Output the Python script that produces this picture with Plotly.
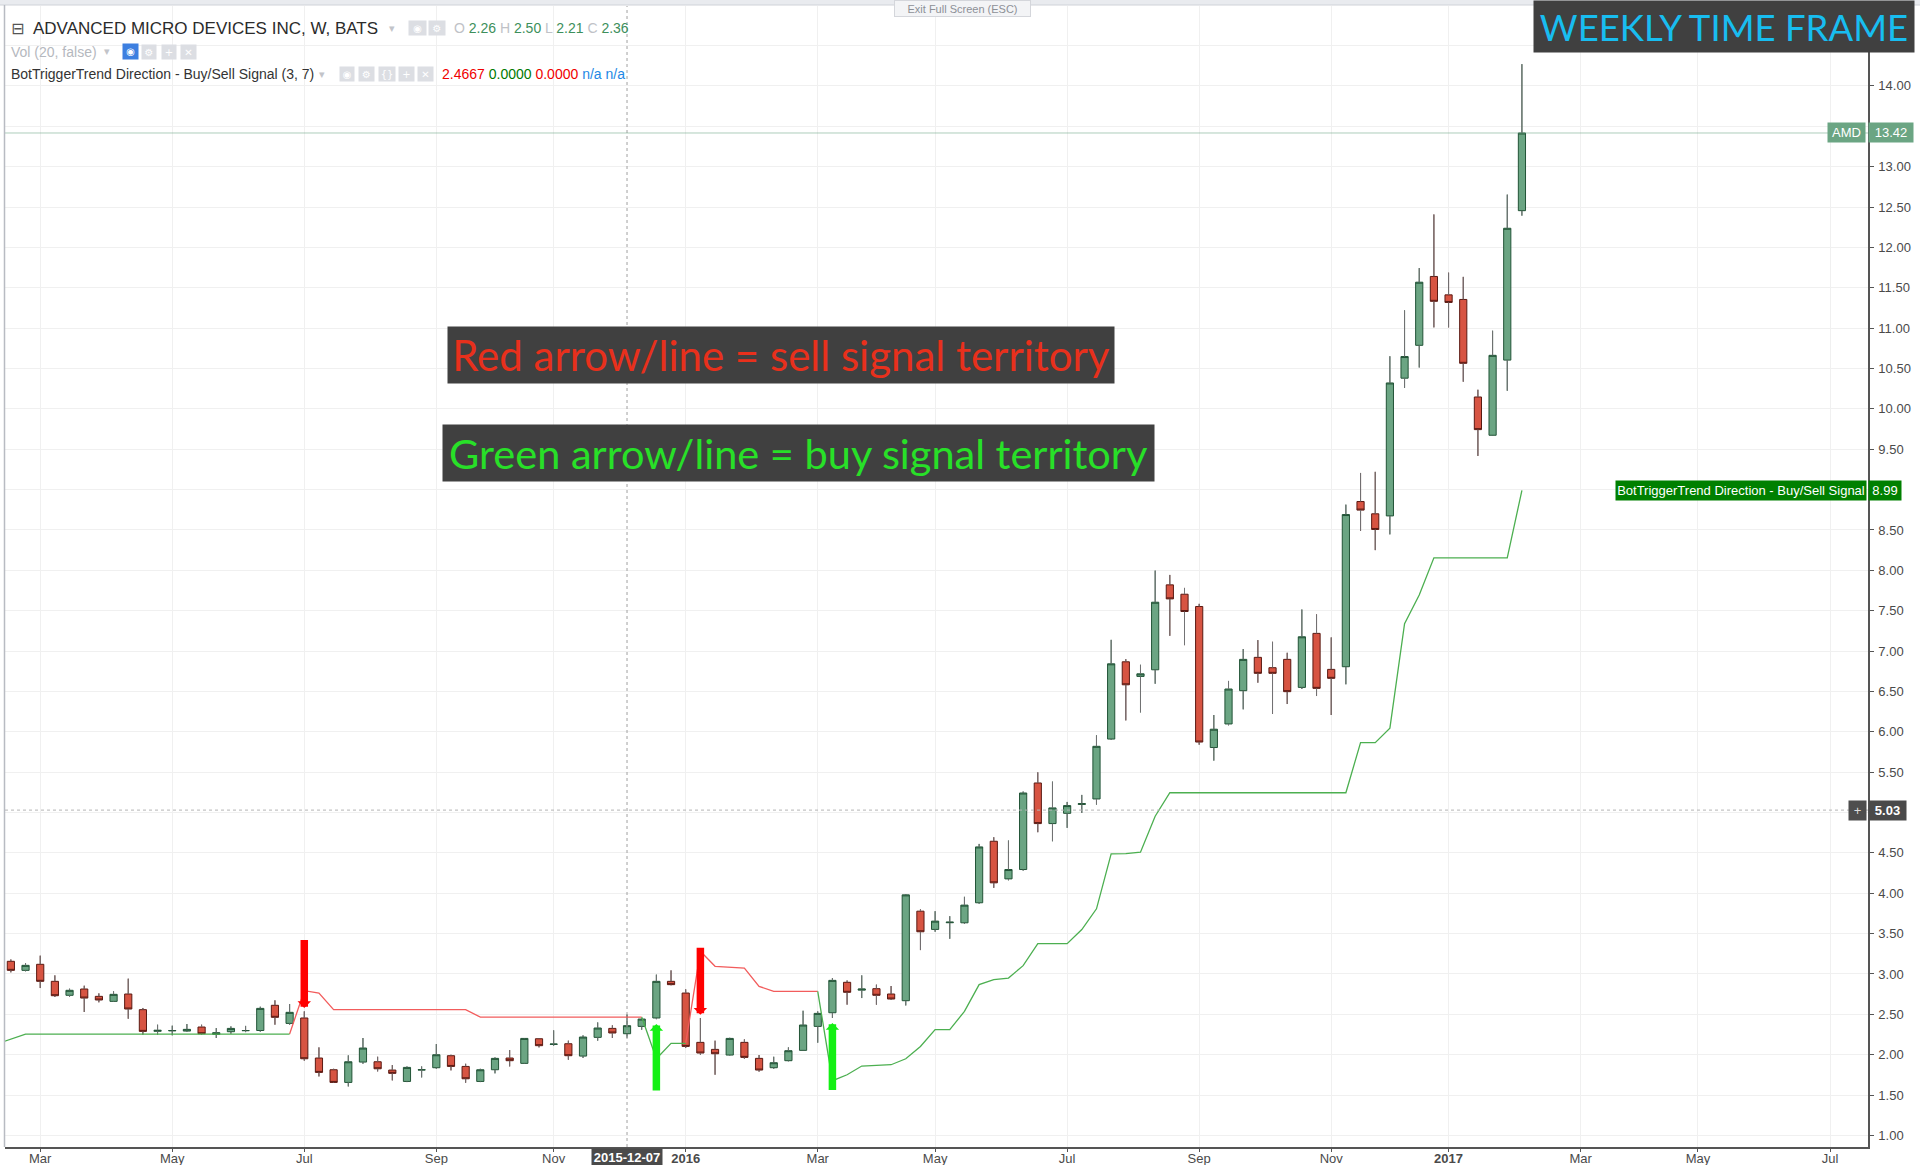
import datetime as dt
import plotly.graph_objects as go

# ---------------- data ----------------
BASE = dt.datetime(2016, 1, 4)          # weekly bars, week index 0 = 2016-01-04

week_index = list(range(-46, 58))

opens = [3.157, 3.045, 3.12, 2.909, 2.736, 2.814, 2.723, 2.661, 2.752, 2.558,
         2.29, 2.295, 2.293, 2.343, 2.252, 2.285, 2.297, 2.30, 2.612, 2.388,
         2.455, 1.959, 1.814, 1.657, 1.909, 1.913, 1.81, 1.669, 1.81, 1.839,
         1.988, 1.855, 1.669, 1.814, 1.959, 1.893, 2.198, 2.128, 2.136, 1.983,
         2.215, 2.326, 2.26, 2.351, 2.455, 2.909, 2.764, 2.153, 2.066, 1.996,
         2.153, 1.955, 1.839, 1.926, 2.054, 2.351, 2.52, 2.897, 2.80, 2.818,
         2.752, 2.669, 3.778, 3.552, 3.635, 3.634, 3.882, 4.644, 4.178, 4.294,
         5.366, 4.863, 4.99, 5.10, 5.168, 5.91, 6.867, 6.686, 6.768, 7.82,
         7.704, 7.552, 5.805, 6.097, 6.509, 6.922, 6.794, 6.897, 6.55, 7.219,
         6.773, 6.806, 8.852, 8.70, 8.674, 10.38, 10.787, 11.64, 11.412, 11.355,
         10.147, 9.673, 10.604, 12.455]
highs = [3.18, 3.136, 3.227, 2.983, 2.818, 2.855, 2.76, 2.785, 2.942, 2.579,
         2.372, 2.36, 2.38, 2.372, 2.33, 2.351, 2.357, 2.595, 2.674, 2.628,
         2.537, 2.091, 1.826, 1.992, 2.207, 1.975, 1.872, 1.855, 1.855, 2.132,
         2.0, 1.888, 1.826, 1.967, 2.058, 2.207, 2.207, 2.302, 2.174, 2.24,
         2.40, 2.364, 2.50, 2.45, 2.992, 3.045, 2.81, 2.455, 2.174, 2.21,
         2.19, 1.996, 1.975, 2.091, 2.545, 2.537, 2.95, 2.92, 2.983, 2.868,
         2.851, 3.99, 3.80, 3.778, 3.716, 3.956, 4.611, 4.694, 4.653, 5.26,
         5.498, 5.383, 5.131, 5.218, 5.956, 7.139, 6.90, 6.83, 7.997, 7.943,
         7.782, 7.585, 6.208, 6.63, 7.025, 7.136, 7.115, 6.979, 7.515, 7.454,
         7.169, 8.814, 9.206, 9.22, 10.652, 11.22, 11.744, 12.408, 11.687, 11.635,
         10.237, 10.968, 12.654, 14.27]
lows = [3.02, 3.033, 2.826, 2.715, 2.719, 2.529, 2.649, 2.653, 2.446, 2.248,
        2.248, 2.24, 2.285, 2.25, 2.207, 2.26, 2.28, 2.285, 2.372, 2.372,
        1.926, 1.731, 1.65, 1.607, 1.888, 1.793, 1.682, 1.661, 1.719, 1.826,
        1.806, 1.653, 1.661, 1.769, 1.855, 1.885, 2.091, 2.112, 1.938, 1.96,
        2.174, 2.207, 2.21, 2.31, 2.44, 2.86, 2.083, 2.0, 1.752, 1.99,
        1.95, 1.79, 1.825, 1.918, 2.05, 2.149, 2.455, 2.62, 2.702, 2.62,
        2.68, 2.61, 3.296, 3.523, 3.436, 3.62, 3.87, 4.067, 4.16, 4.28,
        4.756, 4.644, 4.81, 4.995, 5.098, 5.90, 6.141, 6.24, 6.595, 7.189,
        7.073, 5.84, 5.643, 6.08, 6.278, 6.608, 6.221, 6.344, 6.53, 6.443,
        6.208, 6.588, 8.489, 8.25, 8.445, 10.26, 10.512, 11.009, 11.009, 10.336,
        9.417, 9.67, 10.224, 12.393]
closes = [3.045, 3.107, 2.909, 2.731, 2.798, 2.702, 2.678, 2.748, 2.566, 2.289,
          2.302, 2.30, 2.314, 2.26, 2.273, 2.326, 2.30, 2.574, 2.463, 2.525,
          1.95, 1.781, 1.657, 1.913, 2.083, 1.826, 1.769, 1.843, 1.814, 2.0,
          1.855, 1.702, 1.814, 1.955, 1.926, 2.202, 2.112, 2.132, 1.988, 2.219,
          2.331, 2.269, 2.36, 2.442, 2.909, 2.868, 2.103, 2.021, 2.012, 2.202,
          1.967, 1.81, 1.901, 2.05, 2.368, 2.512, 2.921, 2.773, 2.814, 2.736,
          2.69, 3.98, 3.523, 3.655, 3.642, 3.853, 4.574, 4.129, 4.294, 5.242,
          4.863, 5.057, 5.086, 5.11, 5.82, 6.842, 6.582, 6.718, 7.605, 7.646,
          7.49, 5.873, 6.032, 6.53, 6.897, 6.724, 6.724, 6.497, 7.177, 6.538,
          6.662, 8.691, 8.746, 8.506, 10.321, 10.648, 11.569, 11.332, 11.318, 10.564,
          9.743, 10.663, 12.237, 13.417]

# BotTriggerTrend line, one value per week (-47 .. 57); side B = buy (green), S = sell (red)
sig_week = list(range(-47, 58))
sig_value = [2.13, 2.19,
             2.256, 2.256, 2.256, 2.256, 2.256, 2.256, 2.256, 2.256, 2.256, 2.256,
             2.256, 2.256, 2.256, 2.256, 2.256, 2.256, 2.256, 2.256, 2.256,
             2.793, 2.764,
             2.558, 2.558, 2.558, 2.558, 2.558, 2.558, 2.558, 2.558, 2.558, 2.558,
             2.4667, 2.4667, 2.4667, 2.4667, 2.4667, 2.4667, 2.4667, 2.4667, 2.4667,
             2.4667, 2.4667, 2.4667,
             1.95, 2.14, 2.14,
             3.281, 3.095, 3.087, 3.074, 2.847,
             2.785, 2.785, 2.785, 2.785,
             1.678, 1.752, 1.86, 1.868, 1.876, 1.95, 2.103, 2.31, 2.31, 2.537,
             2.868, 2.93, 2.95, 3.103, 3.375, 3.375, 3.375, 3.55, 3.807, 4.488,
             4.49, 4.508, 4.954,
             5.245, 5.245, 5.245, 5.245, 5.245, 5.245, 5.245, 5.245, 5.245, 5.245,
             5.245, 5.245, 5.245,
             5.865, 5.865, 6.045, 7.34, 7.695,
             8.155, 8.155, 8.155, 8.155, 8.155, 8.155,
             8.99]
sig_side = list("BB" + "B" * 19 + "SS" + "S" * 10 + "S" * 12 + "BBB" + "SSSSS" + "SSSS"
                + "B" * 23 + "B" * 13 + "B" * 5 + "B" * 6 + "B")

# signal arrows: week, tail value, tip value
sell_arrow_week = [-26, 1]
sell_arrow_tail = [3.44, 3.343]
sell_arrow_tip = [2.579, 2.496]
buy_arrow_week = [-2, 10]
buy_arrow_tail = [1.537, 1.545]
buy_arrow_tip = [2.38, 2.393]

tick_dates = ["2015-03-02", "2015-05-04", "2015-07-06", "2015-09-07", "2015-11-02",
              "2016-01-04", "2016-03-07", "2016-05-02", "2016-07-04", "2016-09-05",
              "2016-11-07", "2017-01-02", "2017-03-06", "2017-05-01", "2017-07-03"]
tick_labels = ["Mar", "May", "Jul", "Sep", "Nov", "<b>2016</b>", "Mar", "May", "Jul",
               "Sep", "Nov", "<b>2017</b>", "Mar", "May", "Jul"]

# price scale ticks; labels hidden where a price label covers them
price_ticks = [1.0, 1.5, 2.0, 2.5, 3.0, 3.5, 4.0, 4.5, 5.0, 5.5, 6.0, 6.5, 7.0, 7.5,
               8.0, 8.5, 9.0, 9.5, 10.0, 10.5, 11.0, 11.5, 12.0, 12.5, 13.0, 13.5, 14.0, 14.5]
price_tick_text = ["1.00", "1.50", "2.00", "2.50", "3.00", "3.50", "4.00", "4.50", "", "5.50",
                   "6.00", "6.50", "7.00", "7.50", "8.00", "8.50", "", "9.50", "10.00", "10.50",
                   "11.00", "11.50", "12.00", "12.50", "13.00", "", "14.00", ""]

cross_date = "2015-12-07"
cross_price = 5.03
header_ohlc = ["2.26", "2.50", "2.21", "2.36"]
header_sig = ["2.4667", "0.0000", "0.0000", "n/a", "n/a"]
last_sig = sig_value[-1]

# ---------------- helpers ----------------
W_PX, H_PX = 1920, 1165
L, R, T, B = 5, 1868, 6, 1147
PW, PH = R - L, B - T


def wdate(w):
    return (BASE + dt.timedelta(weeks=w)).strftime("%Y-%m-%d %H:%M:%S")


def px(x):
    return (x - L) / PW


def py(y):
    return 1 - (y - T) / PH


dates = [wdate(w) for w in week_index]

UP_FILL, UP_LINE = "#6ba583", "#225437"
DN_FILL, DN_LINE = "#d75442", "#5b1a13"
WICK = "#737375"
AX_FONT = "Liberation Sans, Arial, sans-serif"

fig = go.Figure()

fig.add_trace(go.Candlestick(
    x=dates, open=opens, high=highs, low=lows, close=closes,
    increasing=dict(fillcolor=UP_FILL, line=dict(color=UP_LINE, width=1)),
    decreasing=dict(fillcolor=DN_FILL, line=dict(color=DN_LINE, width=1)),
    whiskerwidth=0, showlegend=False, hoverinfo="skip"))

# gray wicks over the candle whiskers
wx, wy = [], []
for d, o, h, l, c in zip(dates, opens, highs, lows, closes):
    top, bot = max(o, c), min(o, c)
    wx += [d, d, None, d, d, None]
    wy += [h, top, None, bot, l, None]
fig.add_trace(go.Scatter(x=wx, y=wy, mode="lines", line=dict(color=WICK, width=1),
                         showlegend=False, hoverinfo="skip"))

# signal line, each segment coloured by the side of its end point
runs = []
cur_side, cur = sig_side[1], [0, 1]
for i in range(2, len(sig_week)):
    if sig_side[i] == cur_side:
        cur.append(i)
    else:
        runs.append((cur_side, cur))
        cur_side, cur = sig_side[i], [i - 1, i]
runs.append((cur_side, cur))
seg = {"S": ([], []), "B": ([], [])}
for side, idx in runs:
    seg[side][0].extend([wdate(sig_week[i]) for i in idx] + [None])
    seg[side][1].extend([sig_value[i] for i in idx] + [None])
fig.add_trace(go.Scatter(x=seg["S"][0], y=seg["S"][1], mode="lines",
                         line=dict(color="#f25c5c", width=1.3), showlegend=False, hoverinfo="skip"))
fig.add_trace(go.Scatter(x=seg["B"][0], y=seg["B"][1], mode="lines",
                         line=dict(color="#4caf50", width=1.3), showlegend=False, hoverinfo="skip"))

shapes = []
# crosshair
shapes.append(dict(type="line", xref="x", yref="paper", x0=cross_date, x1=cross_date, y0=0, y1=1,
                   line=dict(color="#a0a0a0", width=1, dash="3px,3px")))
shapes.append(dict(type="line", xref="paper", yref="y", x0=0, x1=1, y0=cross_price, y1=cross_price,
                   line=dict(color="#b4b4b4", width=1, dash="3px,3px")))
# last price line
shapes.append(dict(type="line", xref="paper", yref="y", x0=0, x1=1, y0=closes[-1], y1=closes[-1],
                   line=dict(color="rgba(107,165,131,0.55)", width=1)))
# top band and left border
shapes.append(dict(type="rect", xref="paper", yref="paper", x0=px(0), x1=px(W_PX), y0=py(0), y1=py(5),
                   fillcolor="#e9ebef", line=dict(width=0), layer="above"))
shapes.append(dict(type="line", xref="paper", yref="paper", x0=px(0), x1=px(W_PX), y0=py(5), y1=py(5),
                   line=dict(color="#cfd2d8", width=1), layer="above"))
shapes.append(dict(type="line", xref="paper", yref="paper", x0=px(4.5), x1=px(4.5), y0=0, y1=py(5),
                   line=dict(color="#b8bbc2", width=1.5), layer="above"))

ann = []


def text_ann(x, y, text, size=14, color="#333", family=AX_FONT, anchor="left", **kw):
    d = dict(xref="paper", yref="paper", x=px(x), y=py(y), xanchor=anchor, yanchor="middle",
             text=text, showarrow=False, font=dict(size=size, color=color, family=family))
    d.update(kw)
    ann.append(d)


def icon(x0, x1, yc, glyph, bg="#dcdee3"):
    ann.append(dict(xref="paper", yref="paper", x=px(x0), y=py(yc), xanchor="left", yanchor="middle",
                    width=x1 - x0, height=14, bgcolor=bg, borderpad=0, text=glyph, showarrow=False,
                    font=dict(size=10, color="white", family="DejaVu Sans")))


# header line 1
text_ann(9, 28, "⊟", size=16, color="#555", family="DejaVu Sans")
text_ann(31, 28, "ADVANCED MICRO DEVICES INC, W, BATS", size=17, color="#2b2b2b")
text_ann(387, 28, "▾", size=11, color="#c2c4c9", family="DejaVu Sans")
icon(408, 425, 28, "◉")
icon(428, 444, 28, "⚙")
G = "#3d8f5b"
LBL = "#c0c2c7"
ohlc = (f"<span style='color:{LBL}'>O</span> <span style='color:{G}'>{header_ohlc[0]}</span> "
        f"<span style='color:{LBL}'>H</span> <span style='color:{G}'>{header_ohlc[1]}</span> "
        f"<span style='color:{LBL}'>L</span> <span style='color:{G}'>{header_ohlc[2]}</span> "
        f"<span style='color:{LBL}'>C</span> <span style='color:{G}'>{header_ohlc[3]}</span>")
text_ann(452, 28, ohlc, size=14)
# header line 2
text_ann(9, 52, "Vol (20, false)", size=14, color="#b5b8be")
text_ann(102, 52, "▾", size=11, color="#c2c4c9", family="DejaVu Sans")
ann.append(dict(xref="paper", yref="paper", x=px(122), y=py(52), xanchor="left", yanchor="middle",
                width=15, height=15, bgcolor="#3d7fe0", borderpad=0, text="◉", showarrow=False,
                font=dict(size=10, color="white", family="DejaVu Sans")))
icon(141, 155, 52, "⚙")
icon(161, 175, 52, "+")
icon(180, 195, 52, "✕")
# header line 3
text_ann(9, 74.5, "BotTriggerTrend Direction - Buy/Sell Signal (3, 7)", size=14, color="#333")
text_ann(317, 74.5, "▾", size=11, color="#c2c4c9", family="DejaVu Sans")
for (a, b_, g) in [(339, 353, "◉"), (358, 373, "⚙"), (378, 394, "{}"), (398, 413, "+"), (417, 432, "✕")]:
    icon(a, b_, 74.5, g)
sig_txt = (f"<span style='color:#f00000'>{header_sig[0]}</span> "
           f"<span style='color:#007a00'>{header_sig[1]}</span> "
           f"<span style='color:#f00000'>{header_sig[2]}</span> "
           f"<span style='color:#1e88e5'>{header_sig[3]} {header_sig[4]}</span>")
text_ann(440, 74.5, sig_txt, size=14)

# exit full screen button
ann.append(dict(xref="paper", yref="paper", x=px(894), y=py(0), xanchor="left", yanchor="top",
                width=135, height=15, bgcolor="#f3f4f6", bordercolor="#d4d6db", borderwidth=1, borderpad=0,
                text="Exit Full Screen (ESC)", showarrow=False,
                font=dict(size=11, color="#8d9096", family=AX_FONT)))

# overlay text boxes
ann.append(dict(xref="paper", yref="paper", x=px(1533), y=py(0), xanchor="left", yanchor="top",
                width=380, height=51, bgcolor="#404040", borderpad=0, text="WEEKLY TIME FRAME",
                showarrow=False, font=dict(size=36.5, color="#18bdf0", family="Lato")))
ann.append(dict(xref="paper", yref="paper", x=px(447), y=py(326), xanchor="left", yanchor="top",
                width=666, height=56, bgcolor="#404040", borderpad=0,
                text="Red arrow/line = sell signal territory",
                showarrow=False, font=dict(size=42, color="#e8301c", family="Lato")))
ann.append(dict(xref="paper", yref="paper", x=px(442), y=py(424), xanchor="left", yanchor="top",
                width=711, height=56, bgcolor="#404040", borderpad=0,
                text="Green arrow/line = buy signal territory",
                showarrow=False, font=dict(size=41.5, color="#28e028", family="Lato")))

# arrows
for w, tail, tip in zip(sell_arrow_week, sell_arrow_tail, sell_arrow_tip):
    ann.append(dict(xref="x", yref="y", axref="x", ayref="y", x=wdate(w), y=tip, ax=wdate(w), ay=tail,
                    text="", showarrow=True, arrowhead=1, arrowsize=0.3, arrowwidth=7.5,
                    arrowcolor="#ff0000", standoff=0))
for w, tail, tip in zip(buy_arrow_week, buy_arrow_tail, buy_arrow_tip):
    ann.append(dict(xref="x", yref="y", axref="x", ayref="y", x=wdate(w), y=tip, ax=wdate(w), ay=tail,
                    text="", showarrow=True, arrowhead=1, arrowsize=0.3, arrowwidth=7.5,
                    arrowcolor="#14f014", standoff=0))


def price_label(value, text, bg, width, anchor="left", xshift=0, bold=False, color="white", size=13):
    t = f"<b>{text}</b>" if bold else text
    ann.append(dict(xref="paper", yref="y", x=1, y=value, xanchor=anchor, yanchor="middle",
                    xshift=xshift, width=width, height=17, bgcolor=bg, borderpad=1, text=t,
                    showarrow=False, font=dict(size=size, color=color, family=AX_FONT)))


price_label(closes[-1], "AMD", UP_FILL, 35, anchor="right", xshift=-2)
price_label(closes[-1], f"{closes[-1]:.2f}", UP_FILL, 42)
price_label(last_sig, "BotTriggerTrend Direction - Buy/Sell Signal", "#008000", 248, anchor="right",
            xshift=-1)
price_label(last_sig, f"{last_sig:.2f}", "#008000", 30)
price_label(cross_price, "+", "#4e4e4e", 15, anchor="right", xshift=-1, color="#dddddd")
price_label(cross_price, f"{cross_price:.2f}", "#4a4a4a", 35, bold=True)

# crosshair date label on the time axis
ann.append(dict(xref="x", yref="paper", x=cross_date, y=0, xanchor="center", yanchor="top", yshift=-1,
                width=70, height=17, bgcolor="#4a4a4a", borderpad=0, text=f"<b>{cross_date}</b>",
                showarrow=False, font=dict(size=13, color="white", family=AX_FONT)))

x_left = BASE + dt.timedelta(weeks=-46.40)
x_right = BASE + dt.timedelta(weeks=80.59)

fig.update_layout(
    template="none",
    width=W_PX, height=H_PX,
    margin=dict(l=L, r=W_PX - R, t=T, b=H_PX - B, pad=0, autoexpand=False),
    paper_bgcolor="white", plot_bgcolor="white",
    font=dict(family=AX_FONT, size=13, color="#4a4a4a"),
    showlegend=False, hovermode=False,
    boxgap=0.3,
    xaxis=dict(type="date", range=[x_left, x_right], rangeslider=dict(visible=False),
               automargin=False,
               tickmode="array", tickvals=tick_dates, ticktext=tick_labels,
               showgrid=True, gridcolor="#f0f0f0", gridwidth=1, zeroline=False,
               showline=True, linecolor="#555555", linewidth=1.5,
               ticks="outside", ticklen=3, tickcolor="#555555", ticklabelstandoff=-4,
               tickfont=dict(size=13, color="#4a4a4a", family=AX_FONT)),
    yaxis=dict(side="right", range=[0.857, 14.99], tickmode="array",
               tickvals=price_ticks, ticktext=price_tick_text,
               automargin=False,
               showgrid=True, gridcolor="#f0f0f0", gridwidth=1, zeroline=False,
               showline=True, linecolor="#555555", linewidth=1.5,
               ticks="outside", ticklen=4, tickcolor="#555555", ticklabelstandoff=2,
               tickfont=dict(size=13, color="#4a4a4a", family=AX_FONT)),
    shapes=shapes, annotations=ann,
)

fig.write_html("out.html", config={"displayModeBar": False},
               post_script="document.body.style.margin='0';document.body.style.overflow='hidden';")
